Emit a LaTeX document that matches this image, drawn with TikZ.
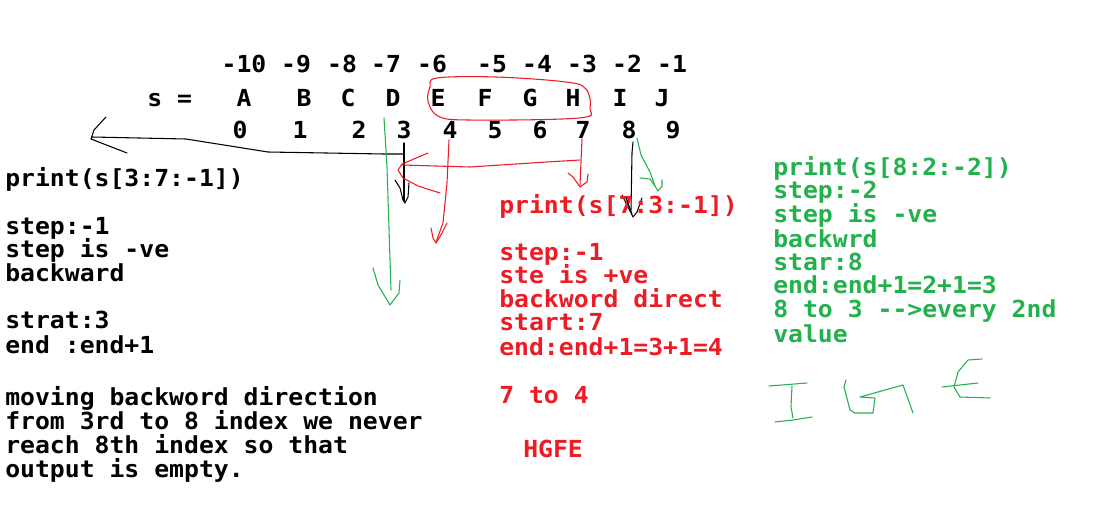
\documentclass[tikz,border=0pt]{standalone}
\usepackage{fontspec}
\usepackage{xcolor}
\usepackage{tikz}
\setmonofont{DejaVu Sans Mono}[FakeStretch=1.055]
\definecolor{paintred}{RGB}{237,28,36}
\definecolor{paintgreen}{RGB}{34,177,76}

\begin{document}
\begin{tikzpicture}[x=0.75pt,y=-0.75pt,
    code/.style={font=\ttfamily\bfseries\fontsize{17.6pt}{18pt}\selectfont,anchor=base west},
    pen/.style={line width=0.8pt,line join=round,line cap=round}]
    \tikzstyle{every node}+=[inner sep=0pt]
    \fill[white] (0,0) rectangle (1107,514);
    % the string and its indexes
    \foreach \x/\t [count=\i] in {244/-10,296/-9,342/-8,386/-7,432/-6,492/-5,537/-4,582/-3,627/-2,672/-1}
        \node[code,anchor=base] (n\i) at (\x,72) {\t};
    \node[code] (sname) at (147,106) {s =};
    \foreach \x/\t in {244/A,304/B,348/C,393/D,438/E,485/F,530/G,573/H,620/I,662/J}
        \node[code,anchor=base] (c\t) at (\x,106) {\t};
    \foreach \x [count=\i from 0] in {240,300,359,404,450,495,540,583,629,673}
        \node[code,anchor=base] (d\i) at (\x,138) {\i};
    % red loop round E..H
    \draw[pen,paintred] plot[smooth cycle,tension=0.6] coordinates
        {(437,78) (496,77) (566,82) (586,89) (590,108) (579,118) (468,120) (438,116) (428,101) (430,87)};
    % black: 3 -> back to the left
    \draw[pen] (404,143) -- (404,201);
    \draw[pen] (395,180) -- (400,188) -- (403,200) -- (405,203) -- (408,197) -- (409,183);
    \draw[pen] (404,154) -- (384,154) -- (268,152) -- (186,139) -- (92,137);
    \draw[pen] (106,117) -- (94,130) -- (91,139) -- (127,153);
    % green down from D
    \draw[pen,paintgreen] (384,118) -- (387,167) -- (391,290);
    \draw[pen,paintgreen] (373,268) -- (378,285) -- (390,305) -- (399,293) -- (400,280);
    % red: 7 down, 7 back to D, 4 down
    \draw[pen,paintred] (582,139) -- (580,185);
    \draw[pen,paintred] (568,173) -- (573,177) -- (580,187) -- (587,182) -- (588,174);
    \draw[pen,paintred] (580,160) -- (547,162) -- (470,167) -- (402,165);
    \draw[pen,paintred] (428,153) -- (402,164) -- (398,170) -- (403,178) -- (418,186) -- (440,193);
    \draw[pen,paintred] (449,140) -- (447,183) -- (443,223) -- (436,242);
    \draw[pen,paintred] (431,228) -- (433,238) -- (436,243) -- (442,233) -- (447,223);
    % black and green from 8
    \draw[pen] (633,142) -- (632,153) -- (631,210);
    \draw[pen] (622,195) -- (627,205) -- (633,217) -- (637,212) -- (642,198);
    \draw[pen,paintgreen] (637,138) -- (641,155) -- (650,172) -- (655,186) -- (658,191) -- (662,186) -- (662,180);
    \draw[pen,paintgreen] (640,178) -- (650,179) -- (655,186);
    % left note
    \node[code] (l1) at (5,186) {print(s[3:7:-1])};
    \node[code] (l2) at (5,234) {step:-1};
    \node[code] (l3) at (5,257) {step is -ve};
    \node[code] (l4) at (5,281) {backward};
    \node[code] (l5) at (5,328) {strat:3};
    \node[code] (l6) at (5,353) {end :end+1};
    \node[code] (l7) at (5,405) {moving backword direction};
    \node[code] (l8) at (5,429) {from 3rd to 8 index we never};
    \node[code] (l9) at (5,453) {reach 8th index so that};
    \node[code] (l10) at (5,477) {output is empty.};
    % red note
    \begin{scope}[every node/.append style={text=paintred}]
    \node[code] (r1) at (499,213) {print(s[7:3:-1])};
    \node[code] (r2) at (499,260) {step:-1};
    \node[code] (r3) at (499,283) {ste is +ve};
    \node[code] (r4) at (499,307) {backword direct};
    \node[code] (r5) at (499,330) {start:7};
    \node[code] (r6) at (499,355) {end:end+1=3+1=4};
    \node[code] (r7) at (499,403) {7 to 4};
    \node[code] (r8) at (523,457) {HGFE};
    \end{scope}
    % the 7 drawn over the red print
    \draw[pen] (626,198) -- (632,214);
    % green note
    \begin{scope}[every node/.append style={text=paintgreen}]
    \node[code] (g1) at (773,175) {print(s[8:2:-2])};
    \node[code] (g2) at (773,198) {step:-2};
    \node[code] (g3) at (773,222) {step is -ve};
    \node[code] (g4) at (773,247) {backwrd};
    \node[code] (g5) at (773,270) {star:8};
    \node[code] (g6) at (773,293) {end:end+1=2+1=3};
    \node[code] (g7) at (773,317) {8 to 3 -->every 2nd};
    \node[code] (g8) at (773,342) {value};
    \end{scope}
    % handwritten I G E
    \draw[pen,paintgreen] (769,386) -- (807,383);
    \draw[pen,paintgreen] (792,386) -- (791,407) -- (793,418);
    \draw[pen,paintgreen] (775,422) -- (793,420) -- (812,417);
    \draw[pen,paintgreen] (846,380) -- (844,387) -- (850,410) -- (855,413) -- (873,413) -- (875,398) -- (860,397)
        -- (903,385) -- (913,413);
    \draw[pen,paintgreen] (982,359) -- (968,360) -- (958,372) -- (954,387) -- (960,397) -- (990,398);
    \draw[pen,paintgreen] (942,387) -- (978,383);
\end{tikzpicture}
\end{document}
